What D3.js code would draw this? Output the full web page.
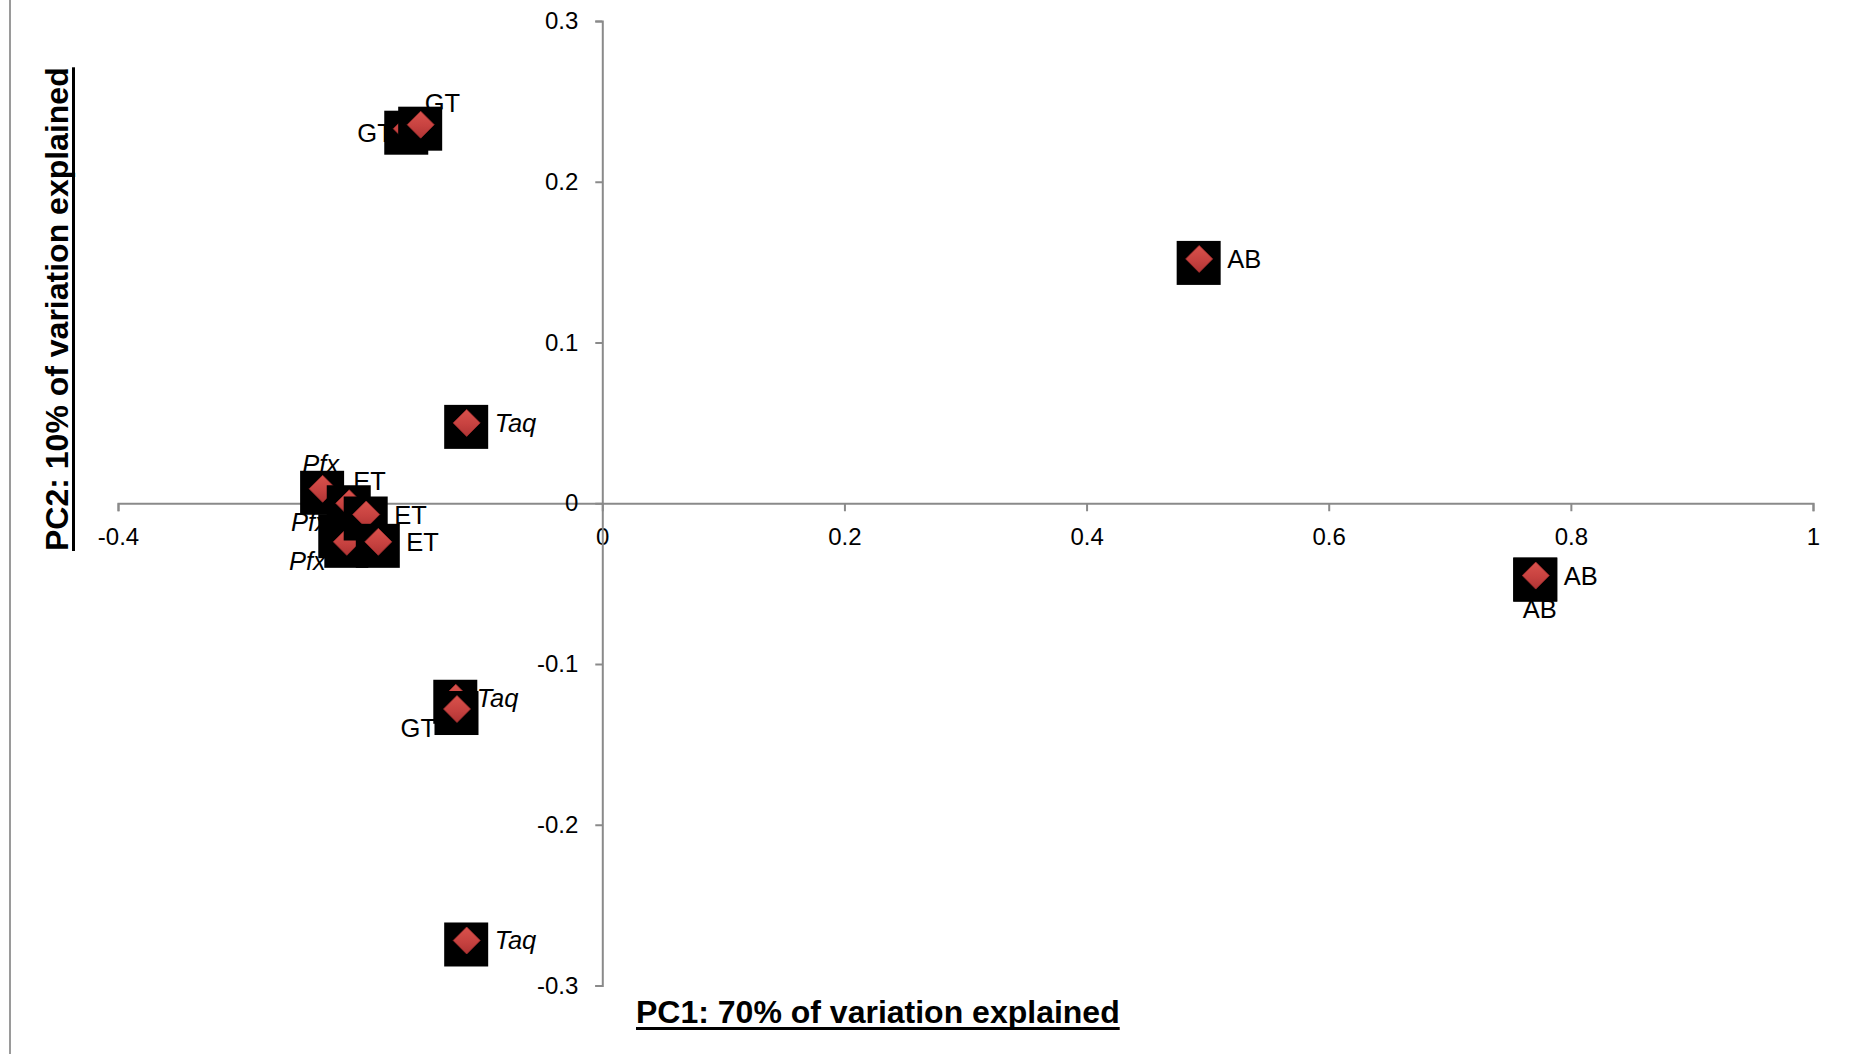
<!DOCTYPE html>
<html>
<head>
<meta charset="utf-8">
<script src="https://cdn.jsdelivr.net/npm/d3@7"></script>
<style>
  html, body { margin: 0; padding: 0; background: #fff; }
  svg { display: block; }
</style>
</head>
<body>
<script>
// PCA scores: one point per sample, labelled with its polymerase
const sampleNames = ["Taq", "Taq", "Taq", "Pfx", "Pfx", "Pfx", "ET", "ET", "ET", "GT", "GT", "GT", "AB", "AB", "AB"];
const pc1Scores  = [-0.112, -0.121, -0.112, -0.231, -0.216, -0.211, -0.209, -0.195, -0.185, -0.1615, -0.150, -0.120, 0.493, 0.771, 0.771];
const pc2Scores  = [0.050, -0.121, -0.272, 0.009, -0.018, -0.024, 0.000, -0.007, -0.024, 0.233, 0.2355, -0.128, 0.152, -0.045, -0.045];
// side of the point each data label sits on
const labelSide  = ["r", "rn", "r", "a", "ul", "ll", "ur", "r", "r", "l", "ur", "ll", "r", "b", "r"];
const italicNames = ["Taq", "Pfx"];

const xTicks = [-0.4, -0.2, 0, 0.2, 0.4, 0.6, 0.8, 1];
const xTickLabels = ["-0.4", "-0.2", "0", "0.2", "0.4", "0.6", "0.8", "1"];
const yTicks = [-0.3, -0.2, -0.1, 0, 0.1, 0.2, 0.3];
const yTickLabels = ["-0.3", "-0.2", "-0.1", "0", "0.1", "0.2", "0.3"];

const xTitle = "PC1: 70% of variation explained";
const yTitle = "PC2: 10% of variation explained";

// ---- drawing ----
const W = 1861, H = 1054;
const FONT = "'Liberation Sans', Arial, Helvetica, sans-serif";
const AXIS_GREY = "#8a8a8a";

const svg = d3.select("body").append("svg")
  .attr("width", W).attr("height", H)
  .style("font-family", FONT);

svg.append("rect").attr("width", W).attr("height", H).attr("fill", "#fff");

const x = d3.scaleLinear().domain([-0.4, 1]).range([118, 1813]);
const y = d3.scaleLinear().domain([-0.3, 0.3]).range([985.5, 21]);

// chart-area frame edge on the left
svg.append("line")
  .attr("x1", 10).attr("x2", 10).attr("y1", 0).attr("y2", H)
  .attr("stroke", "#9a9a9a").attr("stroke-width", 2);

const defs = svg.append("defs");
const grad = defs.append("linearGradient")
  .attr("id", "markerFill").attr("x1", 0).attr("y1", 0).attr("x2", 0).attr("y2", 1);
grad.append("stop").attr("offset", "0%").attr("stop-color", "#d9524c");
grad.append("stop").attr("offset", "55%").attr("stop-color", "#c74240");
grad.append("stop").attr("offset", "100%").attr("stop-color", "#b03434");

function styleAxis(g) {
  g.attr("font-family", FONT).attr("font-size", 24);
  g.selectAll("path.domain").attr("stroke", AXIS_GREY).attr("stroke-width", 2);
  g.selectAll(".tick line").attr("stroke", AXIS_GREY).attr("stroke-width", 2);
  g.selectAll(".tick text").attr("fill", "#000");
}

const xAxis = d3.axisBottom(x)
  .tickValues(xTicks)
  .tickFormat((d, i) => xTickLabels[i])
  .tickSize(8).tickSizeOuter(8).tickPadding(17);

const yAxis = d3.axisLeft(y)
  .tickValues(yTicks)
  .tickFormat((d, i) => yTickLabels[i])
  .tickSize(7).tickSizeOuter(7).tickPadding(17);

svg.append("g")
  .attr("transform", `translate(0,${y(0)})`)
  .call(xAxis).call(styleAxis);

svg.append("g")
  .attr("transform", `translate(${x(0)},0)`)
  .call(yAxis).call(styleAxis);

// axis titles, bold and underlined
function underlinedTitle(parent, text, tx, ty, rotate) {
  const g = parent.append("g")
    .attr("transform", `translate(${tx},${ty})` + (rotate ? " rotate(-90)" : ""));
  const t = g.append("text")
    .attr("x", 0).attr("y", 0)
    .attr("font-size", 32).attr("font-weight", "bold")
    .attr("fill", "#000")
    .text(text);
  const len = t.node().getComputedTextLength();
  g.append("rect").attr("x", 0).attr("y", 4).attr("width", len).attr("height", 3).attr("fill", "#000");
}
underlinedTitle(svg, xTitle, 636, 1023, false);
underlinedTitle(svg, yTitle, 68, 551, true);

// points: black square backing with a red diamond on top
const points = sampleNames.map((name, i) => ({ name, pc1: pc1Scores[i], pc2: pc2Scores[i], side: labelSide[i] }));

const SQ = 44, DIA = 13.5;
const markers = svg.append("g");
points.forEach(p => {
  const cx = x(p.pc1), cy = y(p.pc2);
  markers.append("rect")
    .attr("x", cx - 0.5 - SQ / 2).attr("y", cy + 4 - SQ / 2)
    .attr("width", SQ).attr("height", SQ)
    .attr("fill", "#000");
  markers.append("path")
    .attr("d", `M${cx},${cy - DIA}L${cx + DIA},${cy}L${cx},${cy + DIA}L${cx - DIA},${cy}Z`)
    .attr("fill", "url(#markerFill)")
    .attr("stroke", "#a32e2e").attr("stroke-width", 0.8);
});

// data labels
const placement = {
  r:  { dx: 28,  dy: 0,   anchor: "start" },
  rn: { dx: 21,  dy: 0,   anchor: "start" },
  l:  { dx: -14, dy: 4,   anchor: "end" },
  ul: { dx: -13, dy: -10, anchor: "end" },
  ll: { dx: -21, dy: 19,  anchor: "end" },
  a:  { dx: -2,  dy: -25, anchor: "middle" },
  b:  { dx: 4,   dy: 33,  anchor: "middle" },
  ur: { dx: 4,   dy: -22, anchor: "start" }
};

svg.append("g").selectAll("text")
  .data(points)
  .join("text")
  .attr("x", d => x(d.pc1) + placement[d.side].dx)
  .attr("y", d => y(d.pc2) + placement[d.side].dy + 9)
  .attr("text-anchor", d => placement[d.side].anchor)
  .attr("font-size", 25.5)
  .attr("font-style", d => italicNames.includes(d.name) ? "italic" : "normal")
  .attr("fill", "#000")
  .text(d => d.name);
</script>
</body>
</html>
